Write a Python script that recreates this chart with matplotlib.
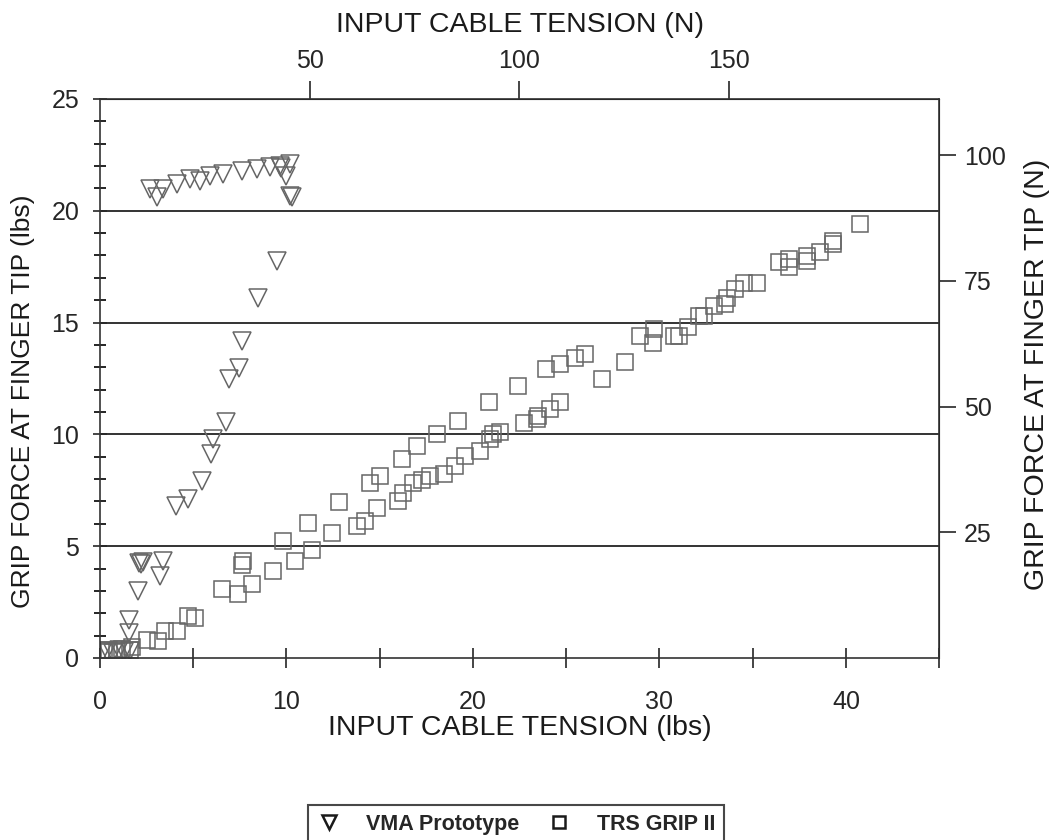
"""Grip force vs input cable tension, VMA prototype vs TRS GRIP II"""
import numpy as np
import matplotlib
matplotlib.use('Agg')
import matplotlib.pyplot as plt
from matplotlib.ticker import MultipleLocator

plt.rcParams['font.family'] = ['Liberation Sans', 'DejaVu Sans']

LB_TO_N = 4.448

# VMA Prototype (lbs in, lbs out)
vma_x = [0.1, 0.4, 0.7, 1.0, 1.3, 1.6, 1.55, 1.55, 2.06, 2.1, 2.2, 2.3,
         3.22, 3.4, 4.07, 4.74, 5.45, 5.94, 6.08, 6.76, 6.94, 7.47, 7.6,
         8.5, 9.48, 2.68, 3.04, 3.4, 4.11, 4.83, 5.36, 5.9, 6.6, 7.6, 8.4,
         9.12, 9.66, 9.7, 10.2, 10.0, 10.2, 10.3]
vma_y = [0.2, 0.3, 0.2, 0.35, 0.25, 0.3, 1.12, 1.7, 2.98, 4.25, 4.2, 4.3,
         3.65, 4.33, 6.79, 7.09, 7.91, 9.1, 9.78, 10.55, 12.46, 12.99, 14.18,
         16.08, 17.76, 20.96, 20.6, 20.97, 21.2, 21.4, 21.35, 21.57, 21.64,
         21.8, 21.87, 21.94, 22.0, 21.9, 22.1, 21.57, 20.67, 20.6]

# TRS GRIP II
trs_x = [0.2, 0.5, 0.9, 1.2, 1.6, 1.7, 2.5, 3.13, 3.49, 4.15, 4.74, 5.1,
         6.53, 7.42, 8.14, 7.6, 7.69, 9.3, 9.83, 10.46, 11.36, 11.18, 12.43,
         12.84, 13.8, 14.2, 14.84, 14.48, 15.02, 16.0, 16.27, 16.18, 16.99,
         16.81, 17.25, 17.7, 18.42, 18.06, 19.05, 19.22, 19.58, 20.39, 20.92,
         21.1, 21.46, 20.88, 22.39, 22.71, 23.42, 23.5, 24.14, 24.68, 23.93,
         24.64, 25.48, 26.02, 26.9, 28.17, 28.97, 29.68, 29.65, 30.76, 31.03,
         31.51, 32.1, 32.37, 32.9, 33.53, 33.62, 34.07, 34.51, 35.23, 36.39,
         36.93, 36.93, 37.91, 37.91, 38.63, 39.29, 39.29, 40.77]
trs_y = [0.3, 0.35, 0.3, 0.4, 0.35, 0.5, 0.82, 0.74, 1.19, 1.19, 1.86, 1.79,
         3.09, 2.84, 3.33, 4.18, 4.33, 3.91, 5.25, 4.33, 4.82, 6.05, 5.57,
         6.97, 5.92, 6.12, 6.7, 7.84, 8.13, 7.04, 7.36, 8.91, 9.48,
         7.84, 7.98, 8.13, 8.21, 10.0, 8.58, 10.6, 9.03, 9.25, 9.78,
         10.0, 10.1, 11.45, 12.16, 10.52, 10.67, 10.82, 11.12, 11.45, 12.91,
         13.16, 13.43, 13.58, 12.48, 13.24, 14.4, 14.7, 14.1, 14.4, 14.4,
         14.78, 15.3, 15.3, 15.75, 15.82, 16.12, 16.49, 16.79, 16.79, 17.69,
         17.84, 17.47, 17.99, 17.76, 18.14, 18.66, 18.51, 19.4]

fig = plt.figure(figsize=(10.59, 8.4), dpi=100)
ax = fig.add_axes([0.0944, 0.2167, 0.7925, 0.6655])

mk = {'linestyle': 'none', 'markerfacecolor': 'none',
      'markeredgecolor': '0.4', 'markeredgewidth': 1.1}
ax.plot(vma_x, vma_y, 'v', ms=13, label='VMA Prototype', **mk)
ax.plot(trs_x, trs_y, 's', ms=11.5, label='TRS GRIP II', **mk)

for yv in [5, 10, 15, 20]:
    ax.axhline(yv, color='0.2', lw=1.4, zorder=0)

ax.set_xlim(0, 45)
ax.set_ylim(0, 25)
ax.xaxis.set_major_locator(MultipleLocator(10))
ax.xaxis.set_minor_locator(MultipleLocator(5))
ax.yaxis.set_major_locator(MultipleLocator(5))
ax.yaxis.set_minor_locator(MultipleLocator(1))
ax.tick_params(axis='x', which='both', direction='inout', length=14,
               width=1.2, labelsize=18, pad=16, colors='0.15')
ax.tick_params(axis='y', which='major', direction='inout', length=10,
               width=1.2, labelsize=18, pad=10, colors='0.15')
ax.tick_params(axis='y', which='minor', direction='inout', length=9,
               width=1.2)
ax.tick_params(top=False, right=False)
for sp in ax.spines.values():
    sp.set_linewidth(1.2)
    sp.set_color('0.2')

ax.set_xlabel('INPUT CABLE TENSION (lbs)', fontsize=20.5, color='0.1',
              labelpad=1)
ax.set_ylabel('GRIP FORCE AT FINGER TIP (lbs)', fontsize=19, color='0.1')
ax.yaxis.set_label_coords(-0.078, 0.46)

top = ax.secondary_xaxis('top', functions=(lambda x: x*LB_TO_N,
                                           lambda x: x/LB_TO_N))
top.set_xticks([50, 100, 150])
top.tick_params(direction='out', length=13, width=1.2, labelsize=18,
                pad=6, colors='0.15')
top.set_xlabel('INPUT CABLE TENSION (N)', fontsize=20.5, color='0.1',
               labelpad=12)

right = ax.secondary_yaxis('right', functions=(lambda y: y*LB_TO_N,
                                               lambda y: y/LB_TO_N))
right.set_yticks([25, 50, 75, 100])
right.tick_params(direction='out', length=12, width=1.2, labelsize=18,
                  pad=6, colors='0.15')
fig.text(1037/1059, 1 - 374/840, 'GRIP FORCE AT FINGER TIP (N)',
         rotation=90, ha='center', va='center', fontsize=20.5, color='0.1')

leg = fig.legend(loc='upper center', bbox_to_anchor=(516/1059, 1 - 805/840),
                 ncol=2, frameon=True, fancybox=False, shadow=False,
                 prop={'size': 15.5, 'weight': 'bold'}, handlelength=1.1,
                 handletextpad=1.2, columnspacing=1.3, borderpad=0.4,
                 borderaxespad=0, markerscale=0.75)
leg.get_frame().set_edgecolor('0.1')
leg.get_frame().set_linewidth(1.5)
for h in leg.legend_handles:
    h.set_markeredgecolor('0.1')
    h.set_markeredgewidth(1.8)
for t in leg.get_texts():
    t.set_color('0.15')

fig.savefig('out.png', dpi=100)
